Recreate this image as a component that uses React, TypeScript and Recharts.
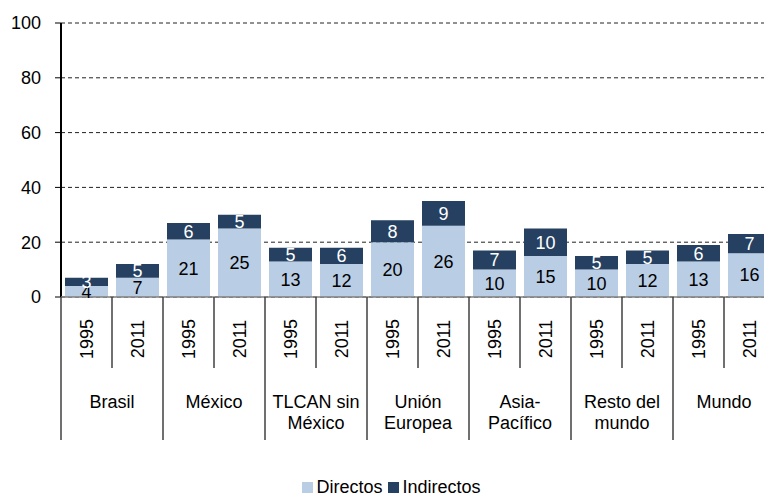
import React from 'react';
import { BarChart, Bar, XAxis, YAxis, CartesianGrid, Legend, LabelList } from 'recharts';

const groups = ['Brasil', 'México', 'TLCAN sin\nMéxico', 'Unión\nEuropea', 'Asia-\nPacífico', 'Resto del\nmundo', 'Mundo'];
const years = ['1995', '2011'];
const directos = [4, 7, 21, 25, 13, 12, 20, 26, 10, 15, 10, 12, 13, 16];
const indirectos = [3, 5, 6, 5, 5, 6, 8, 9, 7, 10, 5, 5, 6, 7];
const yTicks = [0, 20, 40, 60, 80, 100];

const FONT = '"Liberation Sans", Arial, sans-serif';
const FS = 18;
const LIGHT = '#b9cde5';
const DARK = '#254061';
const BAND = 51;

const chartData = directos.map((d, i) => ({
  key: `${i}`,
  year: years[i % 2],
  group: groups[Math.floor(i / 2)],
  Directos: d,
  Indirectos: indirectos[i],
}));

const XTick = (props: any) => {
  const { x, y, payload } = props;
  const i = payload.index;
  const first = i % 2 === 0;
  const left = x - BAND / 2;
  const lines = groups[Math.floor(i / 2)].split('\n');
  return (
    <g>
      <text
        x={x}
        y={y + 42}
        transform={`rotate(-90, ${x}, ${y + 42})`}
        textAnchor="middle"
        dominantBaseline="central"
        fontSize={FS}
        fontFamily={FONT}
        fill="#000"
      >
        {chartData[i].year}
      </text>
      <line x1={left} y1={y} x2={left} y2={first ? y + 143 : y + 71} stroke="#404040" strokeWidth={1.5} />
      {i === chartData.length - 1 && (
        <line x1={x + BAND / 2} y1={y} x2={x + BAND / 2} y2={y + 143} stroke="#404040" strokeWidth={1.5} />
      )}
      {first && (
        <text x={x + BAND / 2} y={y + 111} textAnchor="middle" fontSize={FS} fontFamily={FONT} fill="#000">
          {lines.map((l, k) => (
            <tspan key={k} x={x + BAND / 2} dy={k === 0 ? 0 : 21}>
              {l}
            </tspan>
          ))}
        </text>
      )}
    </g>
  );
};

const LegendContent = () => (
  <div style={{ display: 'flex', justifyContent: 'center', alignItems: 'center', fontFamily: FONT, fontSize: FS, height: 20, paddingLeft: 8, color: '#000' }}>
    <span style={{ width: 11, height: 11, background: LIGHT, display: 'inline-block', marginRight: 3 }} />
    <span style={{ marginRight: 6 }}>Directos</span>
    <span style={{ width: 11, height: 11, background: DARK, display: 'inline-block', marginRight: 3 }} />
    <span>Indirectos</span>
  </div>
);

export default function App() {
  return (
    <div style={{ position: 'absolute', left: 0, top: 0, width: 764, height: 497, overflow: 'hidden', background: '#fff' }}>
      <BarChart
        width={780}
        height={497}
        data={chartData}
        margin={{ top: 23, right: 5, left: 0, bottom: 0 }}
        barCategoryGap={4}
      >
        <CartesianGrid vertical={false} stroke="#222" strokeDasharray="4 3" />
        <YAxis
          width={61}
          domain={[0, 100]}
          ticks={yTicks}
          tickSize={6}
          tickMargin={14}
          axisLine={{ stroke: '#000', strokeWidth: 2 }}
          tickLine={{ stroke: '#000' }}
          tick={{ fontSize: FS, fontFamily: FONT, fill: '#000' }}
        />
        <XAxis
          dataKey="key"
          height={180}
          interval={0}
          tickSize={0}
          tickMargin={0}
          tickLine={false}
          axisLine={{ stroke: '#7f7f7f', strokeWidth: 1.5 }}
          tick={<XTick />}
        />
        <Legend verticalAlign="bottom" height={20} content={<LegendContent />} />
        <Bar dataKey="Directos" stackId="a" fill={LIGHT} isAnimationActive={false}>
          <LabelList dataKey="Directos" position="center" fill="#000" fontSize={FS} fontFamily={FONT} />
        </Bar>
        <Bar dataKey="Indirectos" stackId="a" fill={DARK} isAnimationActive={false}>
          <LabelList dataKey="Indirectos" position="center" fill="#fff" fontSize={FS} fontFamily={FONT} />
        </Bar>
      </BarChart>
    </div>
  );
}
